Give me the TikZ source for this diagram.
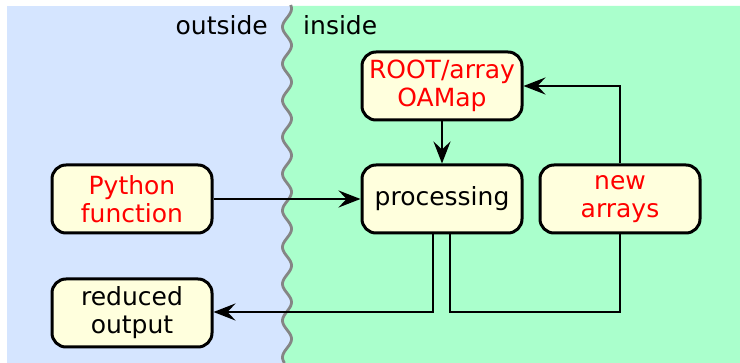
\documentclass[tikz,border=0pt]{standalone}
\usepackage{fontspec}
\setmainfont{DejaVu Sans}
\usetikzlibrary{arrows.meta}
\definecolor{outsidebg}{HTML}{D5E5FF}
\definecolor{insidebg}{HTML}{AAFFCC}
\definecolor{boxfill}{HTML}{FFFFDD}
\definecolor{wavegray}{HTML}{858585}
\tikzset{
  block/.style={draw=black, line width=3pt, fill=boxfill, rounded corners=14pt,
    minimum width=160pt, minimum height=68pt, align=center, inner sep=0pt,
    font=\fontsize{25}{28}\selectfont},
  redtext/.style={text=red},
  flow/.style={line width=2.8pt, draw=black},
  tip/.style={-{Stealth[length=22pt,width=17pt,inset=8pt]}},
  region/.style={font=\fontsize{25}{28}\selectfont, inner sep=0pt}
}
% wavy border between the two regions
\newcommand{\borderwave}{plot[domain=5:363,samples=240,smooth] ({287-4.5*cos((\x-27)/36.7*360)},\x)}
\begin{document}
\begin{tikzpicture}[x=1pt,y=-1pt]
\useasboundingbox (0,0) rectangle (740,363);
% background regions
\fill[white] (0,0) rectangle (740,363);
\fill[outsidebg] (7,6) rectangle (740,363);
\fill[insidebg] \borderwave -- (740,363) -- (740,6) -- (290,6) -- cycle;
\draw[wavegray, line width=2.8pt] \borderwave;
\node[region, anchor=base east] (outlbl) at (268,35) {outside};
\node[region, anchor=base west] (inlbl) at (303,35) {inside};
% blocks
\node[block, redtext] (root) at (442,86) {ROOT/array\\OAMap};
\node[block] (proc) at (442,199) {processing};
\node[block, redtext] (new) at (620,199) {new\\arrays};
\node[block, redtext] (py) at (132,199) {Python\\function};
\node[block] (red) at (132,313) {reduced\\output};
% connectors
\draw[flow, tip] (py) -- (proc);
\draw[flow, tip] (root) -- (proc);
\draw[flow, tip] (new.north) |- (root.east);
\coordinate (lowL) at (433,312);
\coordinate (lowR) at (450,312);
\draw[flow, tip] ([xshift=-9pt]proc.south) -- (lowL) -- (red.east |- lowL);
\draw[flow] ([xshift=8pt]proc.south) -- (lowR) -| (new.south);
\end{tikzpicture}
\end{document}
